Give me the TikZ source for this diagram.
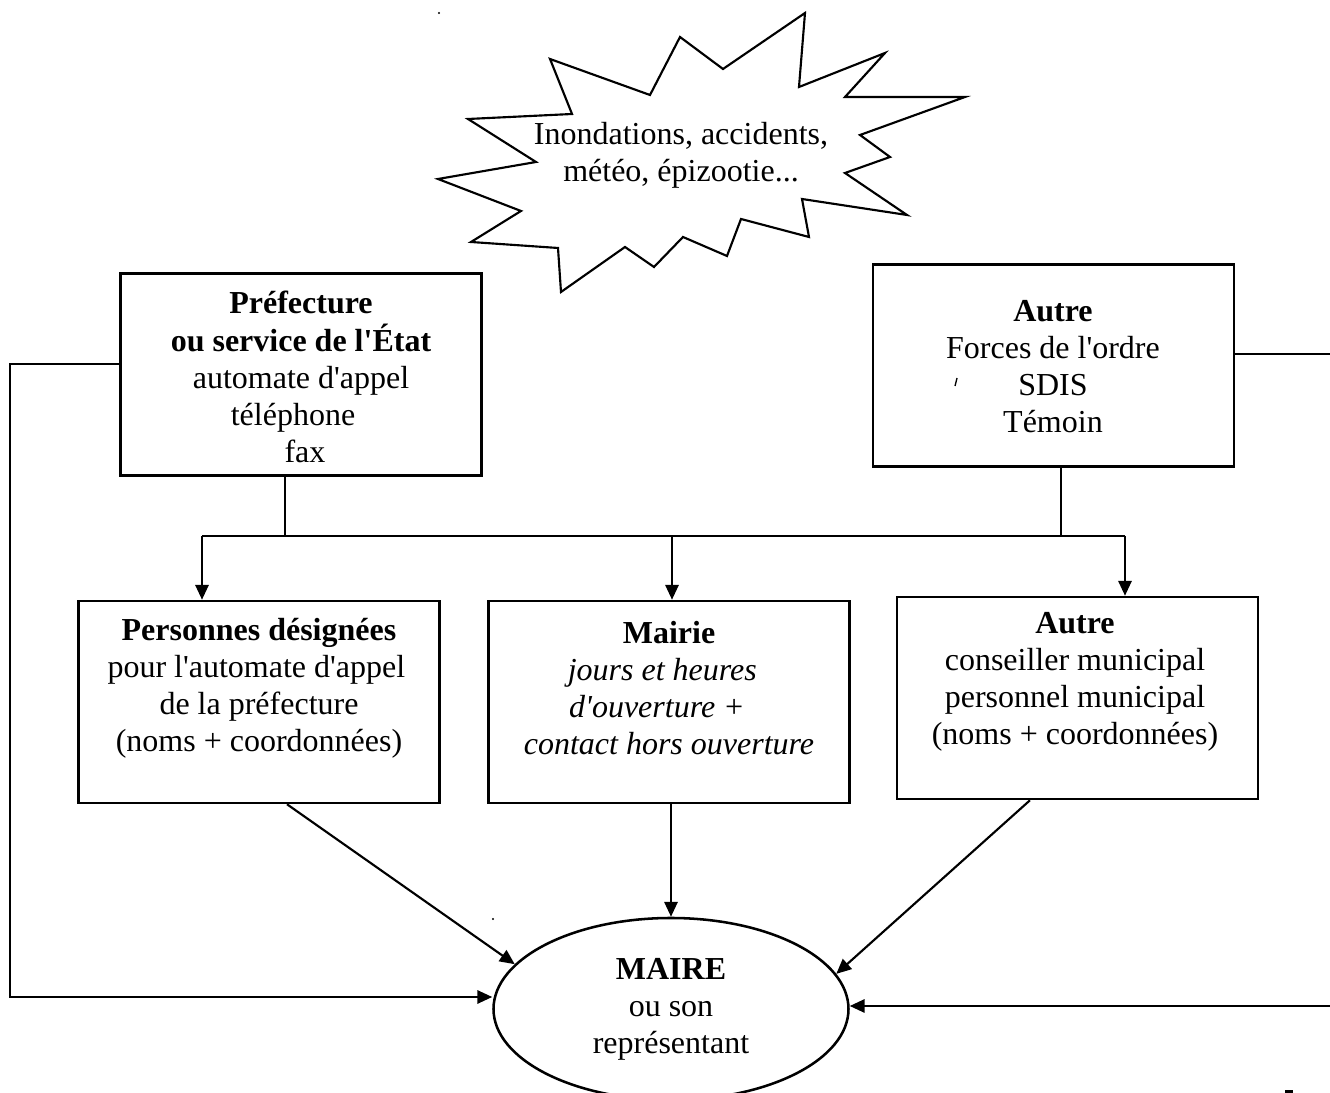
\documentclass[tikz,border=0pt]{standalone}
\usepackage{fontspec}
\setmainfont{Liberation Serif}[Ligatures=TeXOff]
\usetikzlibrary{arrows.meta,shapes.geometric}
\begin{document}
\begin{tikzpicture}[x=0.375pt,y=-0.375pt,line width=0.8pt,
  boxs/.style={draw,rectangle,line width=0.95pt,inner sep=0pt,minimum width=361*0.375pt,minimum height=202*0.375pt},
  txt/.style={align=center,inner sep=0pt,font=\fontsize{12pt}{13.9pt}\selectfont},
  arr/.style={-{Triangle[length=5.6pt,width=5pt]}}]
\useasboundingbox (0,0) rectangle (1330,1093);

% starburst
\draw[line join=miter,miter limit=20] (805,13) -- (799,87) -- (885,53) -- (845,97) -- (965,97) -- (860,135)
  -- (890,157) -- (845,173) -- (907,215) -- (802,199) -- (809,237) -- (741,219)
  -- (727,256) -- (683,237) -- (654,267) -- (625,247) -- (561,292) -- (558,248)
  -- (471,242) -- (521,211) -- (438,179) -- (536,162) -- (468,119) -- (572,114)
  -- (550,59) -- (650,95) -- (680,37) -- (723,69) -- cycle;
\node[txt] (burst) at (681,155) {Inondations, accidents,\\météo, épizootie...};

% boxes
\node[boxs] (pref) at (301,374.5) {};
\node[boxs] (autre1) at (1053.5,365.5) {};
\node[boxs] (pers) at (259,702) {};
\node[boxs] (mairie) at (669,702) {};
\node[boxs] (autre2) at (1077.5,698) {};

\node[txt] (preft) at (301,377) {\textbf{Préfecture}\\\textbf{ou service de l'État}\\automate d'appel\\téléphone\kern6pt\\\kern3pt fax};
\node[txt] (autre1t) at (1053,367) {\textbf{Autre}\\Forces de l'ordre\\SDIS\\Témoin};
\node[txt] (perst) at (259,688) {\textbf{Personnes désignées}\\pour l'automate d'appel\kern2pt\\de la préfecture\\(noms + coordonnées)};
\node[txt] (mairiet) at (669,688) {\textbf{Mairie}\\\textit{jours et heures}\kern5pt\\\textit{d'ouverture +}\kern9pt\\\textit{contact hors ouverture}};
\node[txt] (autre2t) at (1075,682) {\textbf{Autre}\\conseiller municipal\\personnel municipal\\(noms + coordonnées)};

% maire ellipse
\node[draw,ellipse,txt,line width=0.95pt,minimum width=355*0.375pt,minimum height=182*0.375pt] (maire) at (671,1009)
  {\textbf{MAIRE}\\ou son\\représentant};

% bus
\coordinate (j1) at (285,536);
\coordinate (j2) at (1061,536);
\coordinate (b1) at (202,536);
\coordinate (b2) at (672,536);
\coordinate (b3) at (1125,536);
\draw (pref.south -| j1) -- (j1);
\draw (autre1.south -| j2) -- (j2);
\draw (b1) -- (b3);
\draw[arr] (b1) -- (pers.north -| b1);
\draw[arr] (b2) -- (mairie.north -| b2);
\draw[arr] (b3) -- (autre2.north -| b3);

% to maire
\coordinate (d1) at (287,0);
\coordinate (d3) at (1030,0);
\draw[arr] (pers.south -| d1) -- (maire.164);
\draw[arr] (mairie.south -| maire.north) -- (maire.north);
\draw[arr] (autre2.south -| d3) -- (maire.12);

% left loop
\coordinate (L1) at (10,364);
\coordinate (L2) at (10,997);
\draw[arr] (pref.west |- L1) -- (L1) -- (L2) -- (maire.west |- L2);

% right lines
\coordinate (R1) at (1330,354);
\coordinate (R2) at (1330,1006);
\draw (autre1.east |- R1) -- (R1);
\draw[arr] (R2) -- (maire.east |- R2);

% small marks
\fill (439,13) circle (0.45pt);
\fill (493,919) circle (0.45pt);
\draw[line width=0.5pt] (957,378) -- (955,386);
\fill (1285,1090) rectangle (1293,1093);
\end{tikzpicture}
\end{document}
